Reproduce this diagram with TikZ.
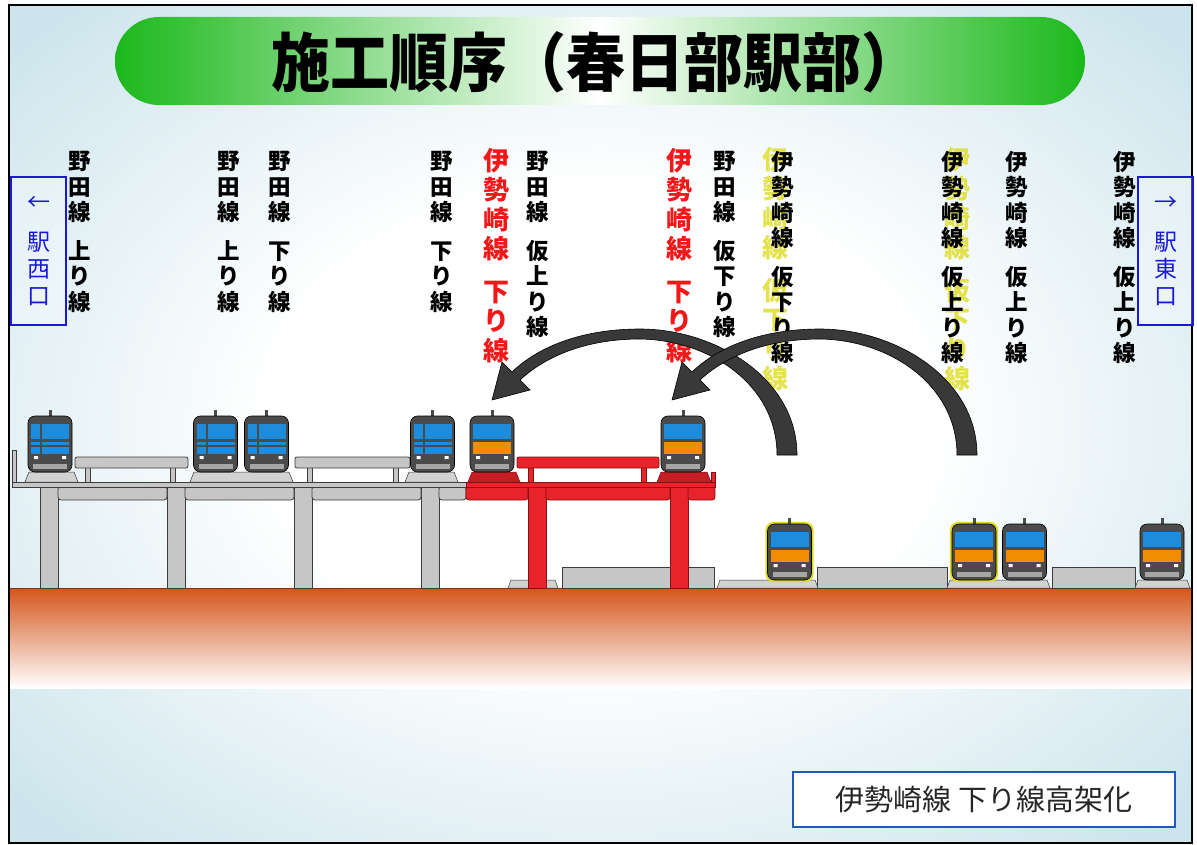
\documentclass[tikz,border=0pt]{standalone}
\usepackage{fontspec}
\newfontfamily\jp{Noto Sans CJK JP}
\usetikzlibrary{positioning}
\definecolor{bgblue}{HTML}{CCE4EC}
\definecolor{titlegreen}{HTML}{1CB81C}
\definecolor{groundor}{HTML}{D4561C}
\definecolor{groundedge}{HTML}{7E3412}
\definecolor{deckgray}{HTML}{C6C6C6}
\definecolor{deckline}{HTML}{3C3C3C}
\definecolor{deckred}{HTML}{E8232B}
\definecolor{deckredline}{HTML}{861014}
\definecolor{trainbody}{HTML}{4B4B4B}
\definecolor{winblue}{HTML}{1E8BDB}
\definecolor{bandorange}{HTML}{F28C00}
\definecolor{exitblue}{HTML}{1A1AD6}
\definecolor{capblue}{HTML}{1F5BB5}
\definecolor{arrowgray}{HTML}{393939}
\definecolor{ghost}{HTML}{DEDC22}
\definecolor{isered}{HTML}{F01818}

% pale backdrop, white in the middle
\pgfdeclareradialshading{backdrop}{\pgfpoint{0bp}{0bp}}{color(0bp)=(white);
  color(14bp)=(white); color(34bp)=(bgblue); color(50bp)=(bgblue)}

% one glyph per line, with a gap between the two parts
\makeatletter
\newcommand\tatechars[1]{\@tfor\tc:=#1\do{\tc\par}}
\newcommand\tate[2]{\edef\tatetmp{#1}\expandafter\tatechars\expandafter{\tatetmp}%
  \vspace{13pt}\edef\tatetmp{#2}\expandafter\tatechars\expandafter{\tatetmp}}
\makeatother

\tikzset{
  pics/train/.style={code={
    \fill[trainbody] (-1.5,-62) rectangle (1.5,-54);
    \filldraw[fill=trainbody,draw=black,line width=0.6,rounded corners=7] (-22,0) rectangle (22,-56);
    \fill[winblue] (-19,-48) rectangle (19,-33);
    \fill[#1] (-19,-30) rectangle (19,-18);
    \fill[white] (-16,-16) rectangle (-12,-13) (12,-16) rectangle (16,-13);
    \fill[gray!70] (-17,-8) rectangle (17,-3);
  }},
  pics/nodatrain/.style={code={
    \pic {train=winblue};
    \fill[trainbody] (-10,-48) rectangle (-8,-18);
    \fill[trainbody] (-19,-27) rectangle (19,-25);
  }},
}

\begin{document}
\begin{tikzpicture}[x=1pt,y=-1pt,
    deck/.style={fill=deckgray,draw=deckline,line width=0.8},
    newdeck/.style={fill=deckred,draw=deckredline,line width=0.8},
    ballast/.style={fill=gray!35,draw=gray!45!black,line width=0.5},
    redballast/.style={fill=deckred!85!black,draw=deckredline,line width=0.5},
    tate/.style={font=\jp\bfseries\fontsize{22.5}{25.5}\selectfont,text width=26pt,
      align=center,inner sep=0pt,anchor=north},
    tatebig/.style={tate,font=\jp\bfseries\fontsize{26}{29.5}\selectfont,text width=30pt},
    exitbox/.style={draw=exitblue,line width=1.6,text=exitblue,fill=white,fill opacity=0.3,
      text opacity=1,minimum width=55,minimum height=148,inner sep=0pt,text width=30pt,
      align=center,font=\jp\fontsize{23}{27}\selectfont},
    bigarrow/.style={fill=arrowgray,draw=black,line width=0.6},
    glow/.style={draw=ghost,line width=2.2,rounded corners=7}]
  \useasboundingbox (0,0) rectangle (1197,845);
  % --- background and frame ---
  \fill[white] (0,0) rectangle (1197,845);
  \shade[shading=backdrop] (9,5) rectangle (1192,843);
  \draw[line width=2] (9,5) rectangle (1192,843);
  % --- title ---
  \shade[left color=titlegreen,right color=titlegreen,middle color=white,rounded corners=44]
    (115,17) rectangle (1085,105);
  \node[font=\jp\bfseries\fontsize{59}{60}\selectfont,yscale=1.08] (title) at (596,62)
    {施工順序（春日部駅部）};
  % --- ground ---
  \shade[top color=groundor,bottom color=white] (10,588) rectangle (1191,688);
  \draw[groundedge,line width=1] (10,588) -- (1191,588);
  % ground level platforms
  \foreach \a/\b in {562/714,817/947,1052/1135}
    \filldraw[deck] (\a,567) rectangle (\b,588);
  % ground level track bed
  \foreach \a/\b in {508/558,717/818,947/1050,1135/1190}
    \filldraw[ballast] (\a,588) -- (\a+3,580) -- (\b-3,580) -- (\b,588) -- cycle;
  % tracks still in use on the ground
  \foreach \x in {789.5,974}{
    \begin{scope}[shift={(\x,580)}]
      \draw[glow] (-23,1) rectangle (23,-57);
    \end{scope}
  }
  \foreach \x in {789.5,974,1024.5,1162}
    \pic at (\x,580) {train=bandorange};
  % --- existing viaduct (gray) ---
  \foreach \c in {40,167,294,421}
    \filldraw[deck] (\c,482) rectangle (\c+18,588);
  \foreach \a/\b in {58/167,185/294,312/421,439/466}
    \filldraw[deck,rounded corners=3] (\a,486) rectangle (\b,500);
  \filldraw[deck] (12,482) rectangle (466,487);
  \filldraw[deck] (12,450) rectangle (16,482);
  \foreach \a/\b/\p/\q in {75/188/88/173,295/410/310/396}{
    \filldraw[deck] (\p-2.5,467) rectangle (\p+2.5,482);
    \filldraw[deck] (\q-2.5,467) rectangle (\q+2.5,482);
    \filldraw[deck,rounded corners=2] (\a,457) rectangle (\b,468);
  }
  % --- new viaduct (red) ---
  \foreach \c in {528,670}
    \filldraw[newdeck] (\c,482) rectangle (\c+18,588);
  \foreach \a/\b in {466/528,546/670,688/715}
    \filldraw[newdeck,rounded corners=3] (\a,486) rectangle (\b,500);
  \filldraw[newdeck] (466,482) rectangle (715,487);
  \filldraw[newdeck] (711,472) rectangle (715,482);
  \filldraw[newdeck] (528,467) rectangle (533,482) (641,467) rectangle (646,482);
  \filldraw[newdeck,rounded corners=2] (517,457) rectangle (659,468);
  % elevated track bed
  \foreach \a/\b in {25/78,190/293,405/458}
    \filldraw[ballast] (\a,482) -- (\a+4,472) -- (\b-4,472) -- (\b,482) -- cycle;
  \foreach \a/\b in {468/520,657/711}
    \filldraw[redballast] (\a,482) -- (\a+4,472) -- (\b-4,472) -- (\b,482) -- cycle;
  % trains on the viaduct
  \foreach \x in {50,215.5,266.5,432.5}
    \pic at (\x,472) {nodatrain};
  \foreach \x in {492,683}
    \pic at (\x,472) {train=bandorange};
  % --- track names ---
  \foreach \x/\y/\a/\b [count=\i] in {775/147/伊勢崎線/仮下り線,957/147/伊勢崎線/仮下り線}
    \node[tatebig,text=ghost,text opacity=0.8] (ghost\i) at (\x,\y) {\tate{\a}{\b}};
  \foreach \x/\a/\b [count=\i] in {80/野田線/上り線,228.5/野田線/上り線,280/野田線/下り線,
      441.5/野田線/下り線,537.5/野田線/仮上り線,724.5/野田線/仮下り線,783/伊勢崎線/仮下り線,
      953/伊勢崎線/仮上り線,1017/伊勢崎線/仮上り線,1125/伊勢崎線/仮上り線}
    \node[tate] (track\i) at (\x,151) {\tate{\a}{\b}};
  \foreach \x [count=\i] in {496,679}
    \node[tatebig,text=isered] (isesaki\i) at (\x,148) {\tate{伊勢崎線}{下り線}};
  % --- shift arrows ---
  \foreach \dx in {0,180}{
    \begin{scope}[xshift=\dx]
      \filldraw[bigarrow] (797,455) .. controls (797,378) and (715,329) .. (640,329)
        .. controls (585,329) and (540,345) .. (512,372) -- (502,362) -- (492,400)
        -- (530,390) -- (520,380) .. controls (548,354) and (590,339) .. (640,339)
        .. controls (710,340) and (777,385) .. (777,455) -- cycle;
    \end{scope}
  }
  % --- exits ---
  \node[exitbox] (westexit) at (38.5,251) {\tate{←}{駅西口}};
  \node[exitbox] (eastexit) at (1165.5,251) {\tate{→}{駅東口}};
  % --- step caption ---
  \node[draw=capblue,line width=2.5,fill=white,minimum width=382,minimum height=55,
    font=\jp\fontsize{29}{31}\selectfont,text=black!85] (caption) at (984,799.5)
    {伊勢崎線 下り線高架化};
\end{tikzpicture}
\end{document}
